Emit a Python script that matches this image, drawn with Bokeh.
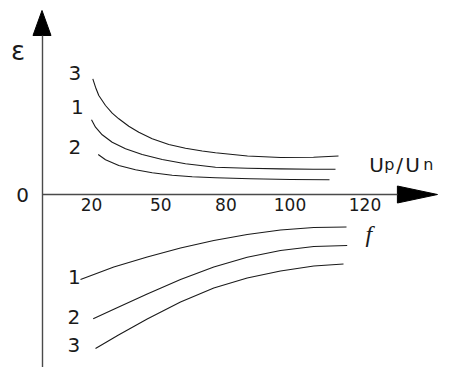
from bokeh.plotting import figure
from bokeh.models import FixedTicker, Label, Range1d
from bokeh.core.properties import value
from bokeh.embed import file_html
from bokeh.resources import INLINE

# ---- data (schematic values) ----
# upper half: epsilon vs Up/Un
eps3_x = [20.53, 21.62, 22.95, 25.66, 28.36, 31.03, 35.07, 39.11, 44.53, 51.23,
          57.98, 64.73, 70.1, 83.03, 96.36, 109.7, 119.8]
eps3_y = [1.157, 1.073, 0.99, 0.89, 0.813, 0.757, 0.683, 0.623, 0.557, 0.50,
          0.463, 0.435, 0.417, 0.385, 0.37, 0.372, 0.385]
eps1_x = [20.0, 21.62, 24.32, 28.36, 33.74, 40.48, 48.57, 57.98, 70.1, 83.03,
          96.36, 109.7, 118.59]
eps1_y = [0.747, 0.673, 0.597, 0.523, 0.457, 0.40, 0.35, 0.307, 0.273, 0.262,
          0.256, 0.253, 0.252]
eps2_x = [22.71, 25.66, 31.03, 37.78, 44.53, 52.61, 60.69, 70.1, 84.24, 100.4, 116.16]
eps2_y = [0.40, 0.347, 0.29, 0.247, 0.217, 0.193, 0.177, 0.167, 0.157, 0.15, 0.147]
# lower half: f vs Up/Un
f1_x = [15.56, 29.01, 42.51, 55.96, 69.41, 82.91, 96.36, 109.82, 123.03]
f1_y = [-0.85, -0.725, -0.625, -0.535, -0.46, -0.40, -0.355, -0.33, -0.325]
f2_x = [20.69, 29.01, 42.51, 55.96, 69.41, 82.91, 96.36, 109.82, 123.31]
f2_y = [-1.243, -1.148, -0.995, -0.85, -0.725, -0.627, -0.56, -0.52, -0.51]
f3_x = [21.62, 30.91, 42.51, 55.96, 69.41, 82.91, 96.36, 109.82, 121.82]
f3_y = [-1.54, -1.405, -1.245, -1.075, -0.935, -0.835, -0.765, -0.715, -0.695]

tick_pos = [20, 48, 74.3, 100.2, 130.5]
tick_labels = ["20", "50", "80", "100", "120"]

curve_label_x = [13.3, 14.3, 13.3, 13.1, 12.9, 12.9]
curve_label_y = [1.215, 0.88, 0.475, -0.825, -1.225, -1.505]
curve_label_text = ["3", "1", "2", "1", "2", "3"]

X_MIN, X_MAX = -16.77, 166.67
Y_MIN, Y_MAX = -1.73, 1.94
X_AXIS_END, X_ARROW_TIP = 143.6, 159.8
Y_AXIS_END, Y_ARROW_TIP = 1.59, 1.84

INK = "#1a1a1a"
AXIS = "#4a4a4a"
FONT = "DejaVu Sans"

p = figure(width=454, height=367, output_backend="svg", toolbar_location=None,
           x_range=Range1d(X_MIN, X_MAX), y_range=Range1d(Y_MIN, Y_MAX),
           min_border=0, outline_line_color=None)
p.grid.visible = False
p.background_fill_color = "white"
p.border_fill_color = "white"

# x axis through 0
xa = p.xaxis[0]
xa.fixed_location = 0
xa.bounds = (0, X_AXIS_END)
xa.ticker = FixedTicker(ticks=tick_pos)
xa.major_label_overrides = {t: l for t, l in zip(tick_pos, tick_labels)}
xa.major_tick_line_color = None
xa.minor_tick_line_color = None
xa.major_tick_out = 0
xa.major_tick_in = 0
xa.major_label_standoff = 3
xa.axis_line_color = AXIS
xa.axis_line_width = 1.4
xa.major_label_text_font = FONT
xa.major_label_text_font_size = "17px"
xa.major_label_text_color = INK

# y axis through 0
ya = p.yaxis[0]
ya.fixed_location = 0
ya.bounds = (Y_MIN, Y_AXIS_END)
ya.ticker = FixedTicker(ticks=[0])
ya.major_tick_line_color = None
ya.minor_tick_line_color = None
ya.major_tick_out = 0
ya.major_tick_in = 0
ya.major_label_standoff = 13
ya.major_label_orientation = "horizontal"
ya.axis_line_color = AXIS
ya.axis_line_width = 1.4
ya.major_label_text_font = FONT
ya.major_label_text_font_size = "20px"
ya.major_label_text_color = INK

# arrow heads
p.patch([X_AXIS_END, X_ARROW_TIP, X_AXIS_END], [0.085, 0, -0.085],
        fill_color="black", line_color="black", line_width=1)
p.patch([-3.64, 0, 3.64], [Y_AXIS_END, Y_ARROW_TIP, Y_AXIS_END],
        fill_color="black", line_color="black", line_width=1)

for xs, ys in [(eps3_x, eps3_y), (eps1_x, eps1_y), (eps2_x, eps2_y),
               (f1_x, f1_y), (f2_x, f2_y), (f3_x, f3_y)]:
    p.line(xs, ys, line_color=INK, line_width=1.1, line_join="round")

p.text(x=curve_label_x, y=curve_label_y, text=curve_label_text,
       text_font=value(FONT), text_font_size="20px", text_color=INK,
       text_align="center", text_baseline="middle")

# axis titles
p.add_layout(Label(x=-9.7, y=1.44, text="ε", text_font=FONT, text_font_size="26px",
                   text_color=INK, text_align="center", text_baseline="middle"))
ux, uy = 132.2, 0.30
for txt, off, size in [("U", 0, "20px"), ("p", 15, "16px"), ("/", 27, "20px"),
                       ("U", 36, "20px"), ("n", 54, "16px")]:
    p.add_layout(Label(x=ux, y=uy, x_offset=off, text=txt, text_font=FONT,
                       text_font_size=size, text_color=INK,
                       text_align="left", text_baseline="alphabetic"))
p.add_layout(Label(x=132.1, y=-0.395, text="f", text_font="Liberation Serif",
                   text_font_style="italic", text_font_size="24px", text_color=INK,
                   text_align="center", text_baseline="middle"))

open("out.html", "w").write(file_html(p, INLINE))
